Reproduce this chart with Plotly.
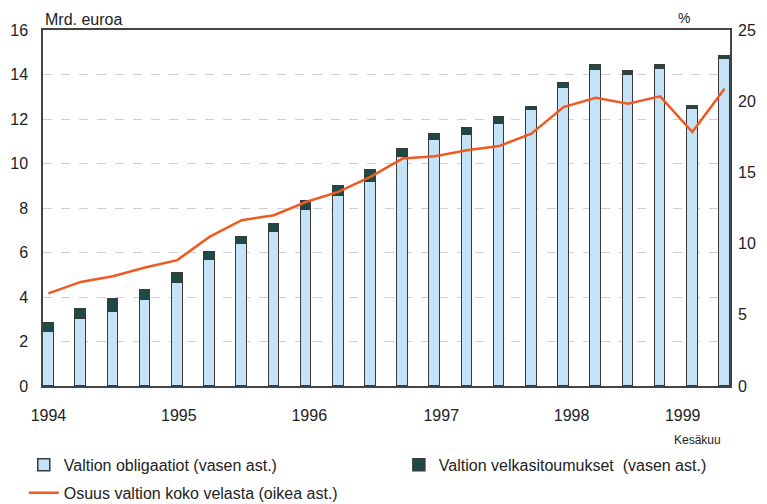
import plotly.graph_objects as go

quarters = [f"{y} Q{q}" for y in range(1994, 2000) for q in range(1, 5)][:22]
obligaatiot = [2.44, 2.99, 3.34, 3.86, 4.64, 5.66, 6.36, 6.93, 7.90, 8.53, 9.17,
               10.29, 11.04, 11.27, 11.79, 12.39, 13.39, 14.21, 13.96, 14.26, 12.43, 14.68]
velkasitoumukset = [0.40, 0.48, 0.55, 0.45, 0.45, 0.35, 0.34, 0.33, 0.42, 0.45, 0.52,
                    0.35, 0.27, 0.34, 0.30, 0.15, 0.22, 0.21, 0.18, 0.16, 0.17, 0.16]
osuus = [6.50, 7.31, 7.71, 8.32, 8.84, 10.47, 11.64, 11.99, 12.92, 13.63, 14.68,
         15.97, 16.13, 16.55, 16.85, 17.72, 19.59, 20.24, 19.82, 20.34, 17.83, 20.88]
year_labels = ["1994", "1995", "1996", "1997", "1998", "1999"]
year_pos = [0, 4.05, 8.1, 12.2, 16.25, 19.7]
left_ticks = [0, 2, 4, 6, 8, 10, 12, 14, 16]
right_ticks = [0, 5, 10, 15, 20, 25]

x = list(range(len(quarters)))
FONT = "Liberation Sans, Arial, sans-serif"
OUTLINE = "#3a3a3a"

fig = go.Figure()
fig.add_trace(go.Bar(
    x=x, y=obligaatiot, name="Valtion obligaatiot (vasen ast.)",
    marker=dict(color="#c4e3f6", line=dict(color=OUTLINE, width=1.5)),
    width=0.33, hovertext=quarters, legend="legend", legendgroup="a",
))
fig.add_trace(go.Bar(
    x=x, y=velkasitoumukset, name="Valtion velkasitoumukset  (vasen ast.)",
    marker=dict(color="#1d4a44", line=dict(color=OUTLINE, width=1.5)),
    width=0.33, hovertext=quarters, legend="legend2", legendgroup="b",
))
fig.add_trace(go.Scatter(
    x=x, y=osuus, name="Osuus valtion koko velasta (oikea ast.)",
    mode="lines", line=dict(color="#f05a22", width=2.5), yaxis="y2",
    hovertext=quarters, legend="legend", legendgroup="c",
))

legend_common = dict(
    orientation="v", yanchor="top", xanchor="left",
    font=dict(size=16, color="#222"), bgcolor="rgba(0,0,0,0)",
    itemwidth=30, tracegroupgap=4,
)

fig.update_layout(
    width=767, height=504,
    margin=dict(l=35, r=45, t=21.5, b=126, autoexpand=False),
    paper_bgcolor="white", plot_bgcolor="white",
    barmode="stack", bargap=0,
    font=dict(family=FONT, size=16, color="#222"),
    showlegend=True,
    legend=dict(x=-0.028, y=-0.174, **legend_common),
    legend2=dict(x=0.518, y=-0.174, **legend_common),
    xaxis=dict(
        range=[-0.17, len(quarters) - 1 + 0.17],
        tickmode="array", tickvals=year_pos, ticktext=year_labels,
        showgrid=False, zeroline=False,
        showline=True, linecolor="#444", linewidth=1.5, mirror=True,
        ticks="", ticklabelstandoff=14,
        tickfont=dict(size=16),
    ),
    yaxis=dict(
        range=[0, 16], tickmode="array", tickvals=left_ticks,
        showgrid=True, gridcolor="#cfcfcf", griddash="dash", gridwidth=1,
        zeroline=False,
        showline=True, linecolor="#444", linewidth=1.5, mirror=True,
        ticks="", ticklabelstandoff=10, tickfont=dict(size=16),
    ),
    yaxis2=dict(
        range=[0, 25], tickmode="array", tickvals=right_ticks,
        overlaying="y", side="right", showgrid=False, zeroline=False,
        showline=False, ticks="", ticklabelstandoff=7, tickfont=dict(size=16),
    ),
    annotations=[
        dict(text="Mrd. euroa", xref="paper", yref="paper", x=0, y=1,
             xanchor="left", yanchor="bottom", showarrow=False,
             font=dict(size=16), yshift=0),
        dict(text="%", xref="paper", yref="paper", x=0.933, y=1,
             xanchor="center", yanchor="bottom", showarrow=False,
             font=dict(size=14), yshift=2),
        dict(text="Kesäkuu", xref="paper", yref="paper", x=0.953, y=0,
             xanchor="center", yanchor="top", showarrow=False,
             font=dict(size=12), yshift=-45),
    ],
)

fig.write_html("out.html")
